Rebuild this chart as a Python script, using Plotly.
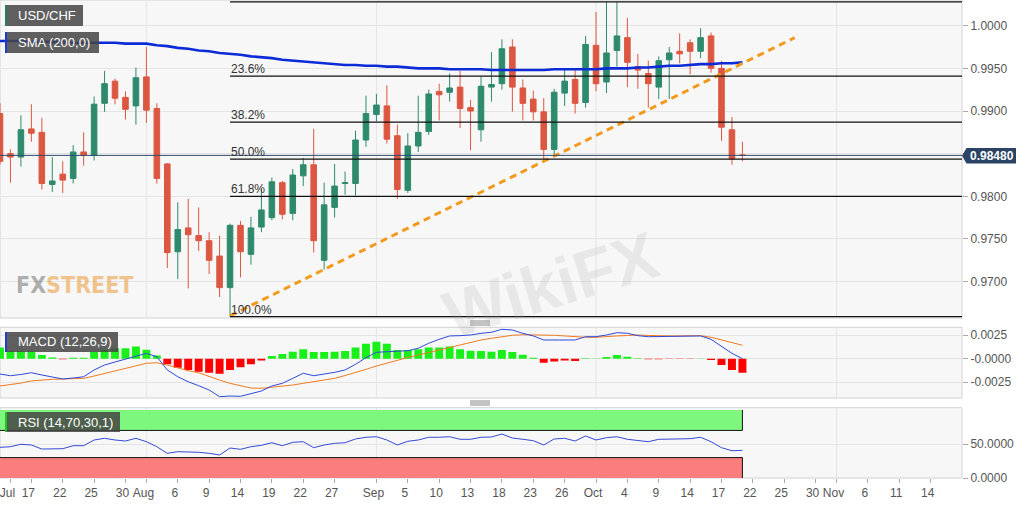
import numpy as np
import pandas as pd
import plotly.graph_objects as go

# ---------------- data ----------------
dates = pd.bdate_range("2019-07-12", "2019-10-21")
origin = "2019-07-17"

opens = [0.9897, 0.9850, 0.9846, 0.9879, 0.9875, 0.9814, 0.9826, 0.9821, 0.9852, 0.9848,
         0.9909, 0.9935, 0.9916, 0.9906, 0.9940, 0.9903, 0.9838, 0.9735, 0.9763, 0.9754,
         0.9748, 0.9730, 0.9693, 0.9766, 0.9732, 0.9764, 0.9775, 0.9816, 0.9780, 0.9824,
         0.9837, 0.9725, 0.9787, 0.9815, 0.9815, 0.9866, 0.9896, 0.9906, 0.9871, 0.9807,
         0.9859, 0.9876, 0.9923, 0.9922, 0.9928, 0.9904, 0.9878, 0.9928, 0.9932, 0.9975,
         0.9927, 0.9914, 0.9899, 0.9855, 0.9921, 0.9937, 0.9910, 0.9977, 0.9934, 0.9971,
         0.9986, 0.9952, 0.9944, 0.9928, 0.9960, 0.9970, 0.9980, 0.9970, 0.9988, 0.9950,
         0.9878, 0.98485]
closes = [0.9841, 0.9846, 0.9878, 0.9874, 0.9815, 0.9818, 0.9819, 0.9852, 0.9848, 0.9908,
          0.9932, 0.9915, 0.9902, 0.9939, 0.9901, 0.9821, 0.9734, 0.9761, 0.9755, 0.9748,
          0.9725, 0.9693, 0.9766, 0.9735, 0.9763, 0.9784, 0.9817, 0.9779, 0.9825, 0.9837,
          0.9748, 0.9790, 0.9812, 0.9816, 0.9866, 0.9897, 0.9907, 0.9867, 0.9808, 0.9859,
          0.9875, 0.9920, 0.9919, 0.9927, 0.9903, 0.9900, 0.9929, 0.9931, 0.9973, 0.9928,
          0.9909, 0.9899, 0.9855, 0.9922, 0.9935, 0.9909, 0.9978, 0.9932, 0.9968, 0.9988,
          0.9957, 0.9948, 0.9932, 0.9959, 0.9968, 0.9967, 0.9970, 0.9986, 0.9950, 0.9881,
          0.9844, 0.98480]
highs = [0.9909, 0.9855, 0.9895, 0.9908, 0.9892, 0.9846, 0.9841, 0.9860, 0.9875, 0.9917,
         0.9947, 0.9938, 0.9923, 0.9951, 0.9975, 0.9909, 0.9839, 0.9793, 0.9797, 0.9787,
         0.9758, 0.9754, 0.9768, 0.9771, 0.9776, 0.9809, 0.9822, 0.9818, 0.9832, 0.9845,
         0.9879, 0.9816, 0.9838, 0.9829, 0.9877, 0.9918, 0.9920, 0.9930, 0.9884, 0.9874,
         0.9918, 0.9925, 0.9932, 0.9944, 0.9947, 0.9913, 0.9940, 0.9969, 0.9984, 0.9984,
         0.9937, 0.9924, 0.9915, 0.9926, 0.9949, 0.9950, 0.9988, 1.0016, 1.0028, 1.0028,
         1.0009, 0.9967, 0.9959, 0.9964, 0.9975, 0.9991, 0.9984, 0.9997, 0.9992, 0.9959,
         0.9893, 0.9864]
lows = [0.9837, 0.9816, 0.9835, 0.9864, 0.9808, 0.9805, 0.9804, 0.9815, 0.9836, 0.9842,
        0.9899, 0.9908, 0.9890, 0.9884, 0.9886, 0.9815, 0.9716, 0.9703, 0.9692, 0.9736,
        0.9709, 0.9682, 0.9659, 0.9705, 0.9720, 0.9758, 0.9772, 0.9773, 0.9772, 0.9812,
        0.9734, 0.9714, 0.9775, 0.9802, 0.9801, 0.9858, 0.9888, 0.9862, 0.9797, 0.9804,
        0.9852, 0.9872, 0.9889, 0.9911, 0.9880, 0.9854, 0.9864, 0.9911, 0.9925, 0.9899,
        0.9889, 0.9889, 0.9843, 0.9848, 0.9906, 0.9897, 0.9904, 0.9923, 0.9921, 0.9952,
        0.9928, 0.9926, 0.9904, 0.9914, 0.9914, 0.9956, 0.9943, 0.9962, 0.9945, 0.9865,
        0.9837, 0.9841]
sma200 = [0.9982, 0.9982, 0.9982, 0.9981, 0.9981, 0.9981, 0.9981, 0.9980, 0.9980, 0.9980,
          0.9980, 0.9980, 0.9979, 0.9979, 0.9979, 0.9977, 0.9976, 0.9974, 0.9973, 0.9971,
          0.9970, 0.9968, 0.9967, 0.9966, 0.9964, 0.9963, 0.9962, 0.9960, 0.9959, 0.9958,
          0.9957, 0.9956, 0.9955, 0.9954, 0.9954, 0.9953, 0.9953, 0.9952, 0.9952, 0.9951,
          0.9950, 0.9950, 0.9950, 0.9949, 0.9949, 0.9949, 0.9949, 0.9948, 0.9948, 0.9948,
          0.9948, 0.9948, 0.9948, 0.9949, 0.9949, 0.9949, 0.9949, 0.9949, 0.9950, 0.9950,
          0.9950, 0.9951, 0.9951, 0.9952, 0.9953, 0.9953, 0.9954, 0.9955, 0.9955, 0.9956,
          0.9956, 0.9957]
macd_line = [-0.00163, -0.00181, -0.00168, -0.00149, -0.00173, -0.00195, -0.00216, -0.00205, -0.00192, -0.00120,
             -0.00067, -0.00035, -0.00006, 0.00021, 0.00057, 0.00021, -0.00120, -0.00192, -0.00245, -0.00287,
             -0.00333, -0.00404, -0.00397, -0.00400, -0.00376, -0.00344, -0.00290, -0.00262, -0.00209, -0.00155,
             -0.00181, -0.00166, -0.00145, -0.00120, -0.00060, 0.00011, 0.00068, 0.00074, 0.00082, 0.00085,
             0.00111, 0.00164, 0.00206, 0.00242, 0.00245, 0.00252, 0.00270, 0.00281, 0.00313, 0.00305,
             0.00270, 0.00242, 0.00199, 0.00199, 0.00206, 0.00199, 0.00234, 0.00234, 0.00252, 0.00277,
             0.00270, 0.00245, 0.00234, 0.00234, 0.00234, 0.00234, 0.00234, 0.00242, 0.00206, 0.00128,
             0.00057, 0.00000]
macd_signal = [-0.00290, -0.00275, -0.00259, -0.00237, -0.00227, -0.00219, -0.00216, -0.00211, -0.00209, -0.00184,
               -0.00155, -0.00129, -0.00102, -0.00076, -0.00049, -0.00043, -0.00067, -0.00099, -0.00128, -0.00149,
               -0.00192, -0.00227, -0.00262, -0.00287, -0.00312, -0.00315, -0.00304, -0.00290, -0.00280, -0.00262,
               -0.00245, -0.00227, -0.00209, -0.00179, -0.00149, -0.00113, -0.00078, -0.00046, -0.00014, 0.00013,
               0.00039, 0.00066, 0.00093, 0.00119, 0.00146, 0.00172, 0.00199, 0.00217, 0.00234, 0.00249,
               0.00255, 0.00255, 0.00252, 0.00249, 0.00242, 0.00231, 0.00228, 0.00228, 0.00231, 0.00242,
               0.00247, 0.00252, 0.00247, 0.00242, 0.00242, 0.00242, 0.00245, 0.00245, 0.00228, 0.00199,
               0.00170, 0.00143]
macd_hist = [0.00120, 0.00082, 0.00082, 0.00078, 0.00039, 0.00014, -0.00005, 0.00010, 0.00010, 0.00074,
             0.00100, 0.00110, 0.00110, 0.00130, 0.00096, 0.00035, -0.00060, -0.00096, -0.00120, -0.00140,
             -0.00150, -0.00160, -0.00120, -0.00090, -0.00060, -0.00020, 0.00028, 0.00049, 0.00074, 0.00100,
             0.00070, 0.00070, 0.00074, 0.00082, 0.00120, 0.00160, 0.00180, 0.00160, 0.00092, 0.00092,
             0.00100, 0.00120, 0.00120, 0.00130, 0.00100, 0.00085, 0.00082, 0.00074, 0.00092, 0.00070,
             0.00042, 0.00010, -0.00042, -0.00030, -0.00020, -0.00025, 0.00005, 0.00003, 0.00018, 0.00039,
             0.00020, 0.00005, -0.00007, -0.00007, -0.00003, -0.00003, -0.00002, 0.00002, -0.00015, -0.00068,
             -0.00120, -0.00150]
rsi = [45.1, 46.0, 49.6, 48.5, 42.6, 42.6, 43.1, 47.5, 47.5, 55.9,
       58.4, 55.9, 54.4, 58.4, 53.4, 46.0, 36.3, 38.7, 38.7, 37.8,
       36.3, 33.8, 44.1, 42.2, 46.0, 48.1, 51.9, 47.5, 52.5, 53.4,
       44.6, 48.5, 51.0, 51.9, 57.4, 59.9, 60.7, 55.9, 48.5, 54.0,
       55.9, 59.9, 59.9, 60.7, 56.9, 56.9, 59.9, 60.3, 64.7, 58.8,
       56.9, 54.9, 48.5, 57.4, 58.4, 54.4, 61.8, 55.9, 59.3, 60.7,
       56.9, 54.9, 53.4, 56.9, 57.4, 57.4, 57.8, 59.9, 53.4, 44.6,
       40.1, 40.7]

fib_high = 1.0028
fib_low = 0.9659
fib_start = "2019-08-13"
fib_levels = [0.0, 0.236, 0.382, 0.5, 0.618, 1.0]
fib_labels = ["", "23.6%", "38.2%", "50.0%", "61.8%", "100.0%"]
last_price = 0.98480
trend_dates = ["2019-08-13", "2019-10-28"]
trend_prices = [0.9660, 0.9986]
rsi_upper, rsi_lower = 70, 30

tick_dates = ["2019-07-15", "2019-07-17", "2019-07-22", "2019-07-25", "2019-07-30", "2019-08-01",
              "2019-08-06", "2019-08-09", "2019-08-14", "2019-08-19", "2019-08-22", "2019-08-27",
              "2019-09-02", "2019-09-05", "2019-09-10", "2019-09-13", "2019-09-18", "2019-09-23",
              "2019-09-26", "2019-10-01", "2019-10-04", "2019-10-09", "2019-10-14", "2019-10-17",
              "2019-10-22", "2019-10-25", "2019-10-30", "2019-11-01", "2019-11-06", "2019-11-11",
              "2019-11-14"]
tick_text = ["Jul", "17", "22", "25", "30", "Aug", "6", "9", "14", "19", "22", "27", "Sep", "5",
             "10", "13", "18", "23", "26", "Oct", "4", "9", "14", "17", "22", "25", "30", "Nov",
             "6", "11", "14"]
month_dates = ["2019-08-01", "2019-09-02", "2019-10-01", "2019-11-01"]
price_ticks = [0.9700, 0.9750, 0.9800, 0.9850, 0.9900, 0.9950, 1.0000]
price_tick_text = ["0.9700", "0.9750", "0.9800", "", "0.9900", "0.9950", "1.0000"]

# ---------------- helpers ----------------
def pos(d):
    d = np.asarray(pd.to_datetime(d).values.astype("datetime64[D]"))
    return np.busday_count(np.datetime64(origin), d)

xpos = pos(dates)
W, H = 962.0, 478.0
XR = [-3.0, 89.0]

def px(x):
    return x / W

def py(y):
    return (H - y) / H

GREEN = "#2e8a6c"
RED = "#dc5741"
GRID = "#e4e4e4"
BORDER = "#d2d2d2"
FONT = "Arial, Liberation Sans, sans-serif"

fig = go.Figure()

fig.add_trace(go.Candlestick(
    x=xpos, open=opens, high=highs, low=lows, close=closes,
    increasing=dict(line=dict(color=GREEN, width=1), fillcolor=GREEN),
    decreasing=dict(line=dict(color=RED, width=1), fillcolor=RED),
    whiskerwidth=0, xaxis="x", yaxis="y", showlegend=False, hoverinfo="skip"))

fig.add_trace(go.Scatter(x=xpos, y=sma200, mode="lines",
                         line=dict(color="#0b2bd6", width=2.6), xaxis="x", yaxis="y",
                         showlegend=False, hoverinfo="skip"))

fig.add_trace(go.Scatter(x=pos(trend_dates), y=trend_prices, mode="lines",
                         line=dict(color="#f39a1e", width=3, dash="7px,5px"),
                         xaxis="x", yaxis="y", showlegend=False, hoverinfo="skip"))

hist_colors = ["#19f019" if v >= 0 else "#ff0000" for v in macd_hist]
fig.add_trace(go.Bar(x=xpos, y=macd_hist, marker=dict(color=hist_colors, line=dict(width=0)),
                     width=0.76, xaxis="x", yaxis="y2", showlegend=False, hoverinfo="skip"))
fig.add_trace(go.Scatter(x=xpos, y=macd_signal, mode="lines",
                         line=dict(color="#f07a20", width=1), xaxis="x", yaxis="y2",
                         showlegend=False, hoverinfo="skip"))
fig.add_trace(go.Scatter(x=xpos, y=macd_line, mode="lines",
                         line=dict(color="#2f4ad8", width=1), xaxis="x", yaxis="y2",
                         showlegend=False, hoverinfo="skip"))

fig.add_trace(go.Scatter(x=xpos, y=rsi, mode="lines",
                         line=dict(color="#3549d6", width=1), xaxis="x", yaxis="y3",
                         showlegend=False, hoverinfo="skip"))

shapes = []
annotations = []

# panel borders & month grid lines
for ya in ["y", "y2", "y3"]:
    shapes.append(dict(type="rect", xref="paper", yref=f"{ya} domain", x0=0, x1=1, y0=0, y1=1,
                       line=dict(color=BORDER, width=1), layer="below"))
    for md in month_dates:
        mx = float(pos([md])[0])
        shapes.append(dict(type="line", xref="x", yref=f"{ya} domain", x0=mx, x1=mx, y0=0, y1=1,
                           line=dict(color=GRID, width=1), layer="below"))

# RSI bands
last_x = float(xpos[-1])
shapes.append(dict(type="rect", xref="x", yref="y3", x0=XR[0], x1=last_x, y0=rsi_upper, y1=100,
                   fillcolor="#7ef77e", line=dict(width=0), layer="below"))
shapes.append(dict(type="rect", xref="x", yref="y3", x0=XR[0], x1=last_x, y0=0, y1=rsi_lower,
                   fillcolor="#fa7e7e", line=dict(width=0), layer="below"))
for (y0, y1, ye) in [(rsi_upper, 100, rsi_upper), (0, rsi_lower, rsi_lower)]:
    shapes.append(dict(type="line", xref="x", yref="y3", x0=XR[0], x1=last_x, y0=ye, y1=ye,
                       line=dict(color="#111", width=1)))
    shapes.append(dict(type="line", xref="x", yref="y3", x0=last_x, x1=last_x, y0=y0, y1=y1,
                       line=dict(color="#111", width=1)))

# last price line
shapes.append(dict(type="line", xref="paper", yref="y", x0=0, x1=1, y0=last_price, y1=last_price,
                   line=dict(color="#2d4a6b", width=1)))

# fibonacci retracement
fx = float(pos([fib_start])[0])
for lvl, lab in zip(fib_levels, fib_labels):
    p = fib_high - lvl * (fib_high - fib_low)
    shapes.append(dict(type="line", xref="x", yref="y", x0=fx, x1=XR[1], y0=p, y1=p,
                       line=dict(color="#111111", width=1.3)))
    if lab:
        annotations.append(dict(x=fx, y=p, xref="x", yref="y", text=lab, showarrow=False,
                                xanchor="left", yanchor="bottom", xshift=-1, yshift=-2,
                                font=dict(family=FONT, size=12, color="#333")))

# price tag
shapes.append(dict(type="path", xref="paper", yref="paper",
                   path=f"M {px(962)} {py(155.7)} L {px(966.5)} {py(148)} L {px(1016)} {py(148)} "
                        f"L {px(1016)} {py(163.5)} L {px(966.5)} {py(163.5)} Z",
                   fillcolor="#2b4466", line=dict(width=0)))
annotations.append(dict(x=px(991.5), y=py(155.7), xref="paper", yref="paper", text="<b>0.98480</b>",
                        showarrow=False, xanchor="center", yanchor="middle",
                        font=dict(family=FONT, size=12, color="white")))

# label boxes
def label_box(x0, y0, x1, y1, text, bar):
    shapes.append(dict(type="rect", xref="paper", yref="paper", x0=px(x0), x1=px(x1),
                       y0=py(y1), y1=py(y0), fillcolor="rgba(70,70,70,0.86)", line=dict(width=0)))
    shapes.append(dict(type="rect", xref="paper", yref="paper", x0=px(x0), x1=px(x0 + 2),
                       y0=py(y1), y1=py(y0), fillcolor=bar, line=dict(width=0)))
    annotations.append(dict(x=px(x0 + 11), y=py((y0 + y1) / 2), xref="paper", yref="paper",
                            text=text, showarrow=False, xanchor="left", yanchor="middle",
                            font=dict(family=FONT, size=13, color="white")))

label_box(5, 5, 83, 26, "USD/CHF", "#2d7a66")
label_box(5, 32, 99, 53, "SMA (200,0)", "#1e3bd4")
label_box(5, 332, 118, 352, "MACD (12,26,9)", "#1e3bd4")
label_box(5, 412, 120, 432, "RSI (14,70,30,1)", "#22c422")

# panel resize handles
for yc in [323.0, 403.0]:
    for dy in (-2, 0, 2):
        shapes.append(dict(type="line", xref="paper", yref="paper", x0=px(470), x1=px(490),
                           y0=py(yc + dy), y1=py(yc + dy), line=dict(color="#888", width=1)))

# watermarks
annotations.append(dict(x=px(14), y=py(285), xref="paper", yref="paper",
                        text="<b><span style='color:rgba(110,110,110,0.55)'>FX</span>"
                             "<span style='color:rgba(236,160,70,0.6)'>STREET</span></b>",
                        showarrow=False, xanchor="left", yanchor="middle",
                        font=dict(family="Liberation Sans Narrow, Arial Narrow, DejaVu Sans Condensed",
                                  size=23)))
annotations.append(dict(x=px(550), y=py(285), xref="paper", yref="paper", text="<b>WikiFX</b>",
                        showarrow=False, textangle=-17, xanchor="center", yanchor="middle",
                        font=dict(family=FONT, size=66, color="rgba(160,160,160,0.18)")))

fig.update_layout(
    width=1032, height=505,
    margin=dict(l=0, r=70, t=0, b=27, autoexpand=False),
    paper_bgcolor="white", plot_bgcolor="#f7f7f7",
    font=dict(family=FONT, size=12, color="#555"),
    showlegend=False, boxgap=0.24, bargap=0.24,
    xaxis=dict(anchor="y3", range=XR, tickvals=pos(tick_dates), ticktext=tick_text,
               ticks="outside", ticklen=4, tickcolor="#aaa", showgrid=False, zeroline=False,
               showline=False, rangeslider=dict(visible=False), ticklabelshift=-3,
               ticklabeloverflow="allow", tickfont=dict(size=12, color="#555")),
    yaxis=dict(domain=[1 - 318 / H, 1.0], range=[0.96574, 1.00301], side="right", anchor="x",
               tickvals=price_ticks, ticktext=price_tick_text, ticks="outside", ticklen=5,
               tickcolor="#aaa", gridcolor=GRID, zeroline=False, showline=False,
               tickfont=dict(size=12, color="#555")),
    yaxis2=dict(domain=[(H - 398) / H, (H - 327.3) / H], range=[-0.00418, 0.00334], side="right",
                anchor="x", tickvals=[0.0025, 0.0, -0.0025], ticktext=["0.0025", "-0.0000", "-0.0025"],
                ticks="outside", ticklen=5, tickcolor="#aaa", gridcolor=GRID, zeroline=False,
                showline=False, tickfont=dict(size=12, color="#555")),
    yaxis3=dict(domain=[0.0, (H - 407.7) / H], range=[0, 103.4], side="right", anchor="x",
                tickvals=[0, 50], ticktext=["0.0000", "50.0000"], ticks="outside", ticklen=5,
                tickcolor="#aaa", gridcolor=GRID, zeroline=False, showline=False,
                tickfont=dict(size=12, color="#555")),
    shapes=shapes, annotations=annotations,
)

fig.write_html("out.html", config={"displayModeBar": False, "staticPlot": True},
               post_script="document.body.style.margin='0';document.body.style.overflow='hidden';")
